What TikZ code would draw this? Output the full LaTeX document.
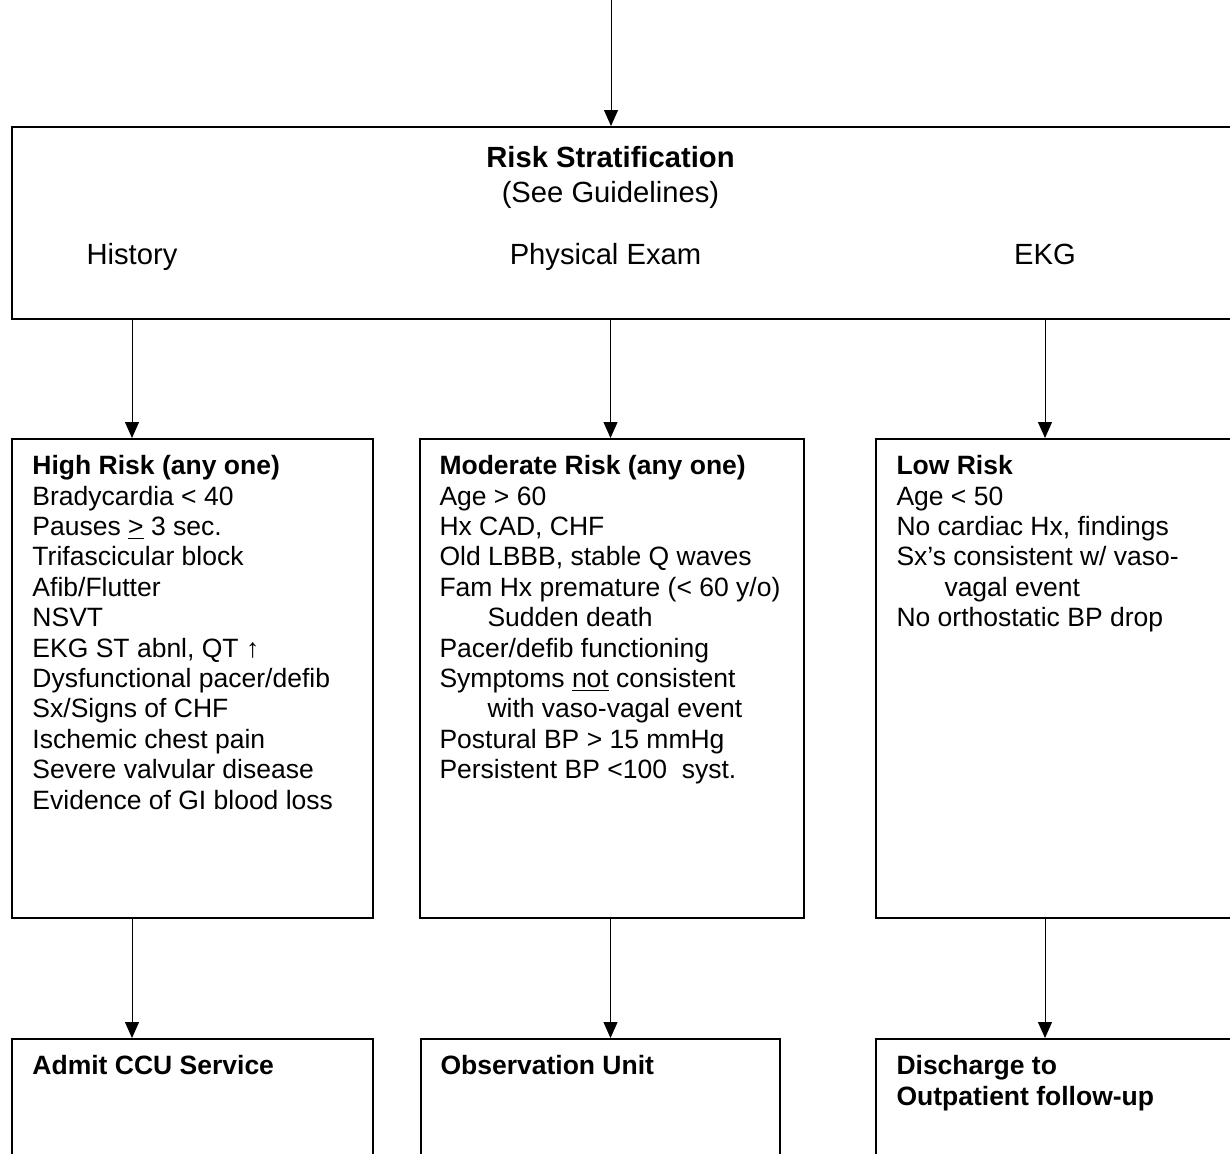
\documentclass[tikz,border=0pt]{standalone}
\usepackage{fontspec}
\setmainfont{Liberation Sans}
\usetikzlibrary{arrows.meta}

\begin{document}
\begin{tikzpicture}[x=0.5pt,y=-0.5pt,line width=0.5pt,>={Triangle[length=8pt,width=7pt]},
  caja/.style={draw,line width=0.8pt,rectangle,inner sep=0pt,anchor=north west},
  lista/.style={anchor=north west,inner sep=0pt,align=left,font=\fontsize{13.25pt}{15.2pt}\selectfont},
  cab/.style={anchor=base,inner sep=0pt,font=\fontsize{14.6pt}{17pt}\selectfont}]
  \useasboundingbox (0,0) rectangle (1230,1153);
  \clip (0,0) rectangle (1230,1153);
  % estratificacion de riesgo
  \node[caja,minimum width=620pt,minimum height=96pt] (strat) at (11,126) {};
  \node[cab] (title) at (610.5,167) {\bfseries Risk Stratification};
  \node[cab] (guide) at (610.5,202) {(See Guidelines)};
  \node[cab] (hist) at (132,264) {History};
  \node[cab] (phys) at (605.5,264) {Physical Exam};
  \node[cab] (ekg) at (1045,264) {EKG};
  % niveles de riesgo
  \node[caja,minimum width=180.5pt,minimum height=239.5pt] (high) at (11,438) {};
  \node[caja,minimum width=192pt,minimum height=239.5pt] (mod) at (419,438) {};
  \node[caja,minimum width=190pt,minimum height=239.5pt] (low) at (875,438) {};
  \node[lista] (hightxt) at ([shift={(10.5pt,-8.5pt)}]high.north west)
    {\textbf{High Risk (any one)}\\Bradycardia < 40\\Pauses \underline{>} 3 sec.\\Trifascicular block\\
     Afib/Flutter\\NSVT\\EKG ST abnl, QT ↑\\Dysfunctional pacer/defib\\Sx/Signs of CHF\\
     Ischemic chest pain\\Severe valvular disease\\Evidence of GI blood loss};
  \node[lista] (modtxt) at ([shift={(10pt,-8.5pt)}]mod.north west)
    {\textbf{Moderate Risk (any one)}\\Age > 60\\Hx CAD, CHF\\Old LBBB, stable Q waves\\
     Fam Hx premature (< 60 y/o)\\\hspace*{24pt}Sudden death\\Pacer/defib functioning\\
     Symptoms \underline{not} consistent\\\hspace*{24pt}with vaso-vagal event\\
     Postural BP > 15 mmHg\\Persistent BP <100\ \ syst.};
  \node[lista] (lowtxt) at ([shift={(10.5pt,-8.5pt)}]low.north west)
    {\textbf{Low Risk}\\Age < 50\\No cardiac Hx, findings\\Sx’s consistent w/ vaso-\\
     \hspace*{24pt}vagal event\\No orthostatic BP drop};
  % destino
  \node[caja,minimum width=180.5pt,minimum height=100pt] (ccu) at (11,1038) {};
  \node[caja,minimum width=179.5pt,minimum height=100pt] (obs) at (420,1038) {};
  \node[caja,minimum width=190pt,minimum height=100pt] (dis) at (875,1038) {};
  \node[lista,font=\fontsize{13.25pt}{15.2pt}\selectfont\bfseries] (ccutxt) at ([shift={(10.5pt,-8.5pt)}]ccu.north west) {Admit CCU Service};
  \node[lista,font=\fontsize{13.25pt}{15.2pt}\selectfont\bfseries] (obstxt) at ([shift={(10pt,-8.5pt)}]obs.north west) {Observation Unit};
  \node[lista,font=\fontsize{13.25pt}{15.2pt}\selectfont\bfseries] (distxt) at ([shift={(10.5pt,-8.5pt)}]dis.north west) {Discharge to\\Outpatient follow-up};
  % flechas
  \coordinate (entrada) at (611,0);
  \draw[->] (entrada) -- (entrada |- strat.north);
  \foreach \c/\a/\b in {hist/high/ccu,title/mod/obs,ekg/low/dis}{
    \draw[->] (\c |- strat.south) -- (\c |- \a.north);
    \draw[->] (\c |- \a.south) -- (\c |- \b.north);
  }
\end{tikzpicture}
\end{document}
